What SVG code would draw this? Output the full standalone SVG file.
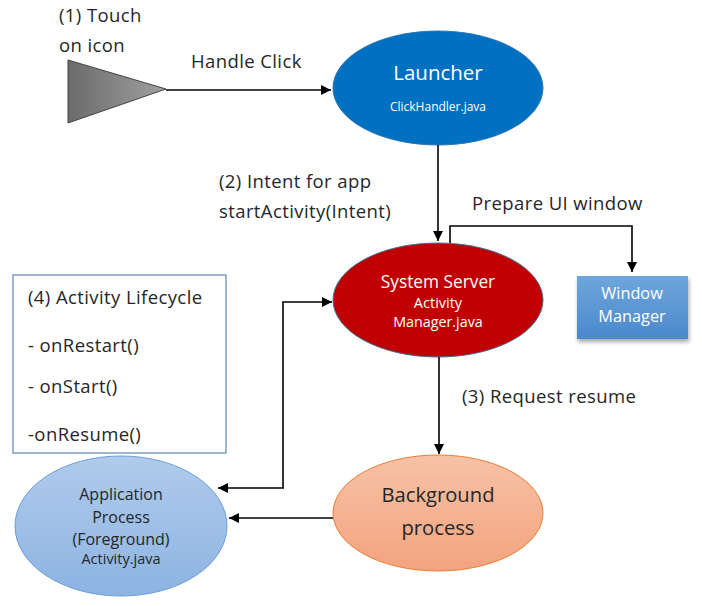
<svg xmlns="http://www.w3.org/2000/svg" width="702" height="606" viewBox="0 0 702 606">
<defs>
<linearGradient id="gTri" x1="0" y1="0" x2="1" y2="0"><stop offset="0" stop-color="#6b6b6b"/><stop offset="1" stop-color="#a0a0a0"/></linearGradient>
<linearGradient id="gWin" x1="0" y1="0" x2="0" y2="1"><stop offset="0" stop-color="#6ea6dc"/><stop offset="1" stop-color="#4a89cb"/></linearGradient>
<linearGradient id="gApp" x1="0" y1="0" x2="0" y2="1"><stop offset="0" stop-color="#b0cbeb"/><stop offset="1" stop-color="#8db3e2"/></linearGradient>
<linearGradient id="gBg" x1="0" y1="0" x2="0" y2="1"><stop offset="0" stop-color="#f7c2a6"/><stop offset="1" stop-color="#f3a37f"/></linearGradient>
<filter id="sh" x="-10%" y="-10%" width="130%" height="140%"><feDropShadow dx="1" dy="3" stdDeviation="2" flood-color="#000" flood-opacity="0.35"/></filter>
<marker id="ah" viewBox="0 0 10 10" refX="10" refY="5" markerWidth="10" markerHeight="10" markerUnits="userSpaceOnUse" orient="auto"><path d="M0,0 L10,5 L0,10 z" fill="#000"/></marker>
</defs>
<style>
text{font-family:"Open Sans","Liberation Sans",Arial,sans-serif;}
.lbl{font-size:18.5px;letter-spacing:0.4px;fill:#262626;}
.conn{fill:none;stroke:#000;stroke-width:1.6;marker-end:url(#ah);}
.w{fill:#fff;text-anchor:middle;}
.d{fill:#262626;text-anchor:middle;}
</style>
<rect width="702" height="606" fill="#fff"/>
<g id="touch">
<polygon points="68,60 68,123 166,89" fill="url(#gTri)" stroke="#444" stroke-width="1"/>
<text class="lbl" x="59" y="22">(1) Touch</text>
<text class="lbl" x="59" y="52">on icon</text>
</g>
<g id="launcher">
<ellipse cx="438" cy="88" rx="105" ry="57" fill="#0070c0" stroke="#2e75b6" stroke-width="1"/>
<text class="w" x="438" y="80" font-size="20.5">Launcher</text>
<text class="w" x="438" y="111" font-size="12">ClickHandler.java</text>
</g>
<g id="system-server">
<ellipse cx="438" cy="300" rx="105" ry="57" fill="#c00000" stroke="#41719c" stroke-width="1"/>
<text class="w" x="438" y="288" font-size="17.3">System Server</text>
<text class="w" x="438" y="308" font-size="14.5">Activity</text>
<text class="w" x="438" y="327" font-size="14.3">Manager.java</text>
</g>
<g id="window-manager">
<rect x="577" y="276" width="111" height="63" fill="url(#gWin)" filter="url(#sh)"/>
<text class="w" x="632" y="299" font-size="16.3">Window</text>
<text class="w" x="632" y="322" font-size="16.3">Manager</text>
</g>
<g id="lifecycle">
<rect x="13" y="275" width="213" height="178" fill="#fff" stroke="#7f9fc2" stroke-width="1.5"/>
<text class="lbl" x="28" y="304">(4) Activity Lifecycle</text>
<text class="lbl" x="28" y="352">- onRestart()</text>
<text class="lbl" x="28" y="393">- onStart()</text>
<text class="lbl" x="28" y="441">-onResume()</text>
</g>
<g id="app-process">
<ellipse cx="121" cy="526" rx="106" ry="70" fill="url(#gApp)" stroke="#6a9fd8" stroke-width="1"/>
<text class="d" x="121" y="500" font-size="16">Application</text>
<text class="d" x="121" y="523" font-size="16">Process</text>
<text class="d" x="121" y="545" font-size="16">(Foreground)</text>
<text class="d" x="121" y="564" font-size="14.5">Activity.java</text>
</g>
<g id="background">
<ellipse cx="438" cy="513" rx="105" ry="58" fill="url(#gBg)" stroke="#ed7d31" stroke-width="1"/>
<text class="d" x="438" y="502" font-size="20.2">Background</text>
<text class="d" x="438" y="535" font-size="20.2">process</text>
</g>
<g id="connectors">
<line class="conn" x1="166" y1="90" x2="331" y2="90"/>
<text class="lbl" x="191" y="68">Handle Click</text>
<line class="conn" x1="438" y1="145" x2="438" y2="241"/>
<text class="lbl" x="219" y="188">(2) Intent for app</text>
<text class="lbl" x="219" y="218">startActivity(Intent)</text>
<polyline class="conn" points="450,243 450,226 632,226 632,272"/>
<text class="lbl" x="472" y="210">Prepare UI window</text>
<polyline class="conn" points="283,488 283,302 332,302"/>
<line class="conn" x1="284" y1="488" x2="218" y2="488"/>
<line class="conn" x1="439" y1="357" x2="439" y2="454"/>
<text class="lbl" x="462" y="403">(3) Request resume</text>
<line class="conn" x1="333" y1="518" x2="229" y2="518"/>
</g>
</svg>
